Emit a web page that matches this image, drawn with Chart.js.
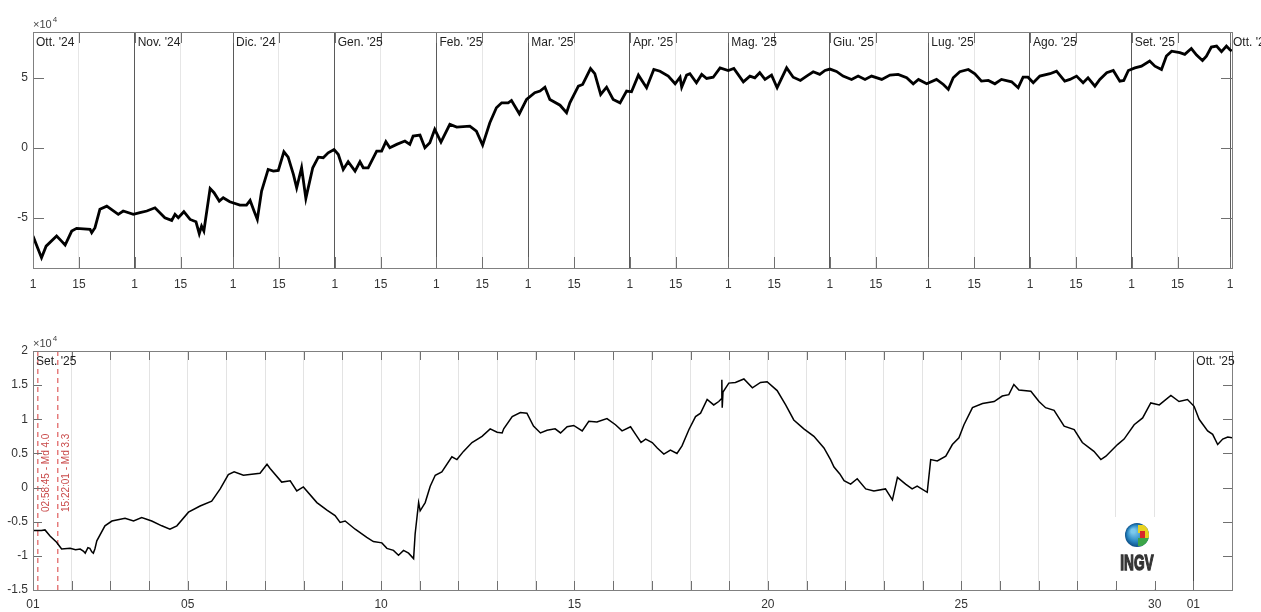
<!DOCTYPE html>
<html>
<head>
<meta charset="utf-8">
<script src="https://cdn.jsdelivr.net/npm/chart.js@4.4.1/dist/chart.umd.min.js"></script>
<style>
  html, body { margin: 0; padding: 0; background: #fff; }
  #wrap { position: relative; width: 1261px; height: 612px; overflow: hidden; }
  canvas { position: absolute; left: 0; }
  #yearChart { top: 0; }
  #monthChart { top: 320px; }
</style>
</head>
<body>
<div id="wrap">
  <canvas id="yearChart" width="1261" height="300"></canvas>
  <canvas id="monthChart" width="1261" height="292"></canvas>
</div>
<script>
// top panel: days since 1 Oct 2024, values in units of 1e4
const yearDays = [0, 2.6, 4, 7.2, 8.7, 9.8, 11.8, 13.3, 17.4, 17.9, 18.9, 20.4, 22.5, 26, 27.5, 30.6, 32.6, 34.7, 37.2, 40.2,
  42.3, 43.3, 44.3, 46, 47.9, 49.7, 50.7, 51.4, 52.1, 54, 55.2, 56.8, 58, 60, 63.1, 65.1, 66.2, 67.4, 68.4, 69.7,
  71.7, 73.3, 74.8, 76.5, 77.8, 79.4, 80.4, 81.9, 83.2, 85.3, 87, 88.5, 90, 91.8, 93.1, 94.6, 96.1, 98.2, 99.7, 100.7,
  102.2, 104.8, 106.3, 107.6, 108.8, 110.9, 113.4, 114.9, 115.9, 118, 119.5, 121, 122.5, 124.4, 127.1, 129.2, 133.2, 135.2, 137.1, 139.3,
  141.3, 142.9, 144.9, 145.9, 148.3, 150.5, 153, 154.6, 156.1, 157.6, 160.7, 162.7, 163.7, 166.3, 167.6, 170, 171.3, 173.1, 174.9, 176.9,
  179, 181, 182.5, 184.6, 187.1, 189.3, 191.2, 193.7, 195.8, 197.3, 197.8, 199.3, 200.3, 202.3, 203.9, 205.4, 207.4, 209.5, 212, 213.7,
  216.6, 218.6, 220.1, 221.6, 223.2, 225.2, 226.9, 229.8, 231.8, 234, 235.9, 237.9, 239.9, 241.5, 243, 245, 247, 249.6, 251.6, 253.7,
  255.7, 258.8, 261.3, 263.8, 266.4, 268.4, 270, 272.5, 275.5, 277.6, 279.1, 280.6, 282.6, 285.2, 287.2, 289.2, 291.3, 293.3, 295.3, 298.4,
  300.4, 301.9, 303.4, 305, 307, 310.1, 312.1, 314.6, 316.2, 318.2, 320.2, 321.7, 323.8, 325.3, 327.4, 329.4, 331.4, 332.6, 334, 336,
  338, 340.5, 342.1, 344.1, 345.6, 347.2, 349.7, 351.2, 353.2, 354.8, 356.6, 357.8, 359.3, 360.9, 362.4, 363.9, 364.9, 365.5];
const yearValues = [-6.31, -7.86, -7.03, -6.31, -6.67, -6.95, -5.95, -5.76, -5.83, -6.07, -5.71, -4.40, -4.17, -4.76, -4.52, -4.76, -4.64, -4.52, -4.29, -5.00,
  -5.19, -4.76, -5.00, -4.57, -5.12, -5.29, -6.14, -5.60, -5.95, -2.91, -3.21, -3.81, -3.57, -3.86, -4.10, -4.10, -3.76, -4.52, -5.12, -3.10,
  -1.55, -1.67, -1.62, -0.29, -0.67, -1.90, -2.86, -1.43, -3.62, -1.43, -0.67, -0.71, -0.36, -0.12, -0.48, -1.55, -1.00, -1.67, -1.00, -1.43,
  -1.43, -0.24, -0.24, 0.43, 0.00, 0.24, 0.48, 0.24, 0.83, 0.90, 0.00, 0.36, 1.31, 0.40, 1.67, 1.48, 1.55, 1.19, 0.19, 1.79,
  2.86, 3.21, 3.21, 3.38, 2.43, 3.45, 3.93, 4.05, 4.33, 3.45, 3.04, 2.50, 3.21, 4.40, 4.52, 5.66, 5.29, 3.81, 4.33, 3.45,
  3.21, 4.05, 4.00, 5.19, 4.29, 5.59, 5.47, 5.12, 4.57, 5.04, 4.33, 5.19, 5.29, 4.64, 5.24, 4.95, 5.04, 5.71, 5.52, 5.66,
  4.71, 5.12, 5.00, 5.36, 4.88, 5.19, 4.29, 5.71, 5.04, 4.81, 5.12, 5.43, 5.24, 5.52, 5.62, 5.45, 5.12, 4.88, 5.12, 4.88,
  5.12, 4.88, 5.19, 5.24, 5.00, 4.57, 4.88, 4.57, 4.88, 4.52, 4.17, 5.00, 5.43, 5.59, 5.29, 4.76, 4.81, 4.57, 4.88, 4.71,
  4.29, 5.04, 5.04, 4.64, 5.12, 5.29, 5.47, 4.76, 4.88, 5.12, 4.64, 5.00, 4.40, 4.88, 5.36, 5.52, 4.76, 4.81, 5.52, 5.71,
  5.83, 6.19, 5.83, 5.59, 6.55, 6.90, 6.79, 6.67, 7.09, 6.62, 6.24, 6.55, 7.19, 7.26, 6.86, 7.26, 7.02, 6.90];
const monthStartDays = [0, 31, 61, 92, 123, 151, 182, 212, 243, 273, 304, 335, 365];
const monthNames = ["Ott. '24", "Nov. '24", "Dic. '24", "Gen. '25", "Feb. '25", "Mar. '25", "Apr. '25",
  "Mag. '25", "Giu. '25", "Lug. '25", "Ago. '25", "Set. '25", "Ott. '25"];
const yearYTicks = [-5, 0, 5];

// bottom panel: days since 1 Sep 2025 00:00, values in units of 1e4
const sepDays = [0, 0.22, 0.31, 0.44, 0.61, 0.74, 0.96, 1.1, 1.22, 1.3, 1.35, 1.42, 1.47, 1.52, 1.56, 1.6, 1.65, 1.86, 2.04, 2.38,
  2.6, 2.81, 3.07, 3.33, 3.54, 3.72, 4.02, 4.32, 4.62, 4.84, 5.05, 5.2, 5.44, 5.87, 6.05, 6.13, 6.43, 6.65, 6.82, 6.99,
  7.34, 7.6, 7.81, 7.94, 8.07, 8.33, 8.63, 8.8, 9.02, 9.15, 9.32, 9.45, 9.58, 9.71, 9.84, 9.88, 9.97, 10.01, 10.14, 10.27,
  10.4, 10.57, 10.83, 10.96, 11.13, 11.35, 11.61, 11.82, 12.0, 12.13, 12.17, 12.39, 12.6, 12.77, 12.94, 13.12, 13.29, 13.5, 13.64, 13.81,
  13.98, 14.2, 14.37, 14.58, 14.84, 15.06, 15.23, 15.45, 15.58, 15.72, 15.84, 16.01, 16.14, 16.31, 16.48, 16.65, 16.78, 16.96, 17.13, 17.26,
  17.43, 17.6, 17.73, 17.8, 17.81, 17.82, 17.84, 17.99, 18.16, 18.38, 18.6, 18.81, 18.98, 19.24, 19.46, 19.67, 19.93, 20.19, 20.45, 20.62,
  20.71, 20.86, 20.97, 21.14, 21.31, 21.53, 21.74, 22.04, 22.22, 22.35, 22.56, 22.73, 22.86, 23.12, 23.21, 23.38, 23.6, 23.77, 23.94, 24.07,
  24.29, 24.55, 24.85, 25.06, 25.23, 25.36, 25.49, 25.8, 26.01, 26.18, 26.4, 26.66, 26.92, 27.13, 27.43, 27.61, 27.74, 28.04, 28.21, 28.47,
  28.69, 28.9, 29.12, 29.42, 29.63, 29.85, 30.02, 30.15, 30.37, 30.5, 30.63, 30.76, 30.89, 31.0];
const sepValues = [-0.63, -0.63, -0.62, -0.71, -0.80, -0.90, -0.89, -0.91, -0.90, -0.93, -0.96, -0.88, -0.89, -0.94, -0.96, -0.90, -0.78, -0.56, -0.49, -0.45,
  -0.49, -0.44, -0.49, -0.56, -0.61, -0.56, -0.36, -0.27, -0.20, -0.02, 0.19, 0.23, 0.18, 0.21, 0.34, 0.28, 0.08, 0.10, -0.05, 0.01,
  -0.22, -0.33, -0.41, -0.51, -0.49, -0.61, -0.73, -0.79, -0.81, -0.89, -0.92, -0.99, -0.92, -0.96, -1.04, -0.68, -0.22, -0.34, -0.22, 0.02,
  0.18, 0.23, 0.45, 0.41, 0.53, 0.66, 0.75, 0.86, 0.81, 0.80, 0.86, 1.04, 1.10, 1.09, 0.90, 0.80, 0.84, 0.86, 0.80, 0.89,
  0.91, 0.83, 0.97, 0.96, 1.01, 0.92, 0.83, 0.89, 0.78, 0.66, 0.71, 0.66, 0.58, 0.49, 0.55, 0.50, 0.61, 0.85, 1.04, 1.09,
  1.29, 1.21, 1.26, 1.30, 1.58, 1.17, 1.40, 1.53, 1.54, 1.59, 1.46, 1.54, 1.55, 1.42, 1.21, 0.99, 0.86, 0.75, 0.58, 0.41,
  0.30, 0.20, 0.10, 0.05, 0.13, -0.02, -0.05, -0.02, -0.18, 0.15, 0.05, -0.02, 0.02, -0.07, 0.41, 0.39, 0.46, 0.63, 0.73, 0.92,
  1.17, 1.23, 1.26, 1.34, 1.36, 1.51, 1.43, 1.41, 1.26, 1.17, 1.13, 0.90, 0.85, 0.66, 0.53, 0.41, 0.46, 0.63, 0.71, 0.92,
  1.02, 1.24, 1.21, 1.35, 1.26, 1.29, 1.19, 1.00, 0.83, 0.78, 0.63, 0.71, 0.74, 0.73];
const sepYTicks = [-1.5, -1, -0.5, 0, 0.5, 1, 1.5, 2];
const sepDayLabels = { 0: "01", 4: "05", 9: "10", 14: "15", 19: "20", 24: "25", 29: "30", 30: "01" };
const sepMonthDays = [0, 30];
const sepMonthNames = ["Set. '25", "Ott. '25"];
const quakeTimes = ["02:58:45", "15:22:01"];
const quakeLabels = ["02:58:45 - Md 4.0", "15:22:01 - Md 3.3"];

const FONT = '"Liberation Sans", Arial, sans-serif';
Chart.defaults.font.family = FONT;
Chart.defaults.font.size = 12;
Chart.defaults.color = "#333";

function toDayFraction(hms) {
  const [h, m, s] = hms.split(":").map(Number);
  return (h + m / 60 + s / 3600) / 24;
}

function makeFrame(monthDays, names, tickLen) {
  return {
    id: "frame",
    afterDraw(chart) {
      const { ctx, chartArea: a, scales } = chart;
      const xs = scales.x, ys = scales.y;
      ctx.save();
      ctx.strokeStyle = "#707070";
      ctx.lineWidth = 1;
      ctx.beginPath();
      xs.ticks.forEach((t) => {
        const px = Math.round(xs.getPixelForValue(t.value)) + 0.5;
        ctx.moveTo(px, a.bottom);
        ctx.lineTo(px, a.bottom - tickLen);
        ctx.moveTo(px, a.top);
        ctx.lineTo(px, a.top + tickLen);
      });
      ys.ticks.forEach((t) => {
        const py = Math.round(ys.getPixelForValue(t.value)) + 0.5;
        ctx.moveTo(a.left, py);
        ctx.lineTo(a.left + tickLen, py);
        ctx.moveTo(a.right, py);
        ctx.lineTo(a.right - tickLen, py);
      });
      ctx.stroke();
      ctx.strokeStyle = "#808080";
      ctx.strokeRect(Math.round(a.left) + 0.5, Math.round(a.top) + 0.5,
        Math.round(a.right - a.left), Math.round(a.bottom - a.top));

      ctx.fillStyle = "#222";
      ctx.font = "12px " + FONT;
      ctx.textAlign = "left";
      ctx.textBaseline = "middle";
      monthDays.forEach((d, i) => {
        ctx.fillText(names[i], xs.getPixelForValue(d) + 3, a.top + 11);
      });

      ctx.fillStyle = "#444";
      ctx.textBaseline = "alphabetic";
      ctx.font = "11px " + FONT;
      ctx.fillText("×10", a.left, a.top - 4);
      const w = ctx.measureText("×10").width;
      ctx.font = "8px " + FONT;
      ctx.fillText("4", a.left + w + 1, a.top - 10);
      ctx.restore();
    }
  };
}

const monthSet = new Set(monthStartDays);
const yearTickDays = [];
monthStartDays.forEach((d, i) => {
  yearTickDays.push(d);
  if (i < monthStartDays.length - 1) yearTickDays.push(d + 14);
});

new Chart(document.getElementById("yearChart"), {
  type: "line",
  data: {
    datasets: [{
      data: yearDays.map((d, i) => ({ x: d, y: yearValues[i] })),
      borderColor: "#000",
      borderWidth: 2.8,
      pointRadius: 0,
      tension: 0
    }]
  },
  options: {
    responsive: false,
    animation: false,
    layout: { padding: { top: 32, right: 29, left: 0, bottom: 0 } },
    plugins: { legend: { display: false }, tooltip: { enabled: false } },
    scales: {
      x: {
        type: "linear",
        min: 0,
        max: 365.6,
        afterBuildTicks: (s) => { s.ticks = yearTickDays.map((v) => ({ value: v })); },
        afterFit: (s) => { s.height = 32; },
        grid: {
          drawTicks: false,
          color: (c) => (c.tick && monthSet.has(c.tick.value) ? "#5a5a5a" : "#e6e6e6")
        },
        border: { display: false },
        ticks: {
          autoSkip: false,
          maxRotation: 0,
          padding: 9,
          callback: (v) => (monthSet.has(v) ? "1" : "15")
        }
      },
      y: {
        min: -8.59,
        max: 8.27,
        afterBuildTicks: (s) => { s.ticks = yearYTicks.map((v) => ({ value: v })); },
        afterFit: (s) => { s.width = 33; },
        grid: { display: false, drawTicks: false },
        border: { display: false },
        ticks: { padding: 5, callback: (v) => String(v) }
      }
    }
  },
  plugins: [makeFrame(monthStartDays, monthNames, 11)]
});

const quakeDays = quakeTimes.map(toDayFraction);
const sepTickDays = [];
for (let d = 0; d <= 31; d++) sepTickDays.push(d);

// canvas coordinates of the logo (bottom canvas starts at page y = 320)
const logo = { x: 1137, y: 215, boxLeft: 1114, boxTop: 197, boxWidth: 46 };

const quakeNotes = {
  id: "quakeNotes",
  beforeDatasetsDraw(chart) {
    const { ctx, chartArea: a } = chart;
    // white patch under the logo
    ctx.save();
    ctx.fillStyle = "#fff";
    ctx.fillRect(logo.boxLeft, logo.boxTop, logo.boxWidth, a.bottom - logo.boxTop - 1);
    ctx.restore();
  },
  afterDraw(chart) {
    const { ctx, chartArea: a, scales } = chart;
    ctx.save();
    ctx.fillStyle = "#c94a4a";
    ctx.font = "10px " + FONT;
    ctx.textAlign = "left";
    ctx.textBaseline = "middle";
    quakeDays.forEach((d, i) => {
      const px = scales.x.getPixelForValue(d);
      ctx.save();
      ctx.translate(px + 8, a.top + 161);
      ctx.rotate(-Math.PI / 2);
      ctx.fillText(quakeLabels[i], 0, 0);
      ctx.restore();
    });

    // INGV logo
    const cx = logo.x, cy = logo.y, r = 12;
    const g = ctx.createRadialGradient(cx - 4, cy - 4, 2, cx, cy, r);
    g.addColorStop(0, "#7cc8ec");
    g.addColorStop(0.6, "#2a88c4");
    g.addColorStop(1, "#0d4f86");
    ctx.beginPath();
    ctx.arc(cx, cy, r, 0, Math.PI * 2);
    ctx.fillStyle = g;
    ctx.fill();
    ctx.save();
    ctx.clip();
    ctx.fillStyle = "#e8d21f";
    ctx.fillRect(cx + 1, cy - 10, 12, 8);
    ctx.fillStyle = "#d9262b";
    ctx.fillRect(cx + 3, cy - 4, 5, 7);
    ctx.fillStyle = "#3ca548";
    ctx.fillRect(cx + 1, cy + 3, 12, 8);
    ctx.fillStyle = "#e8d21f";
    ctx.fillRect(cx + 8, cy - 2, 5, 5);
    ctx.restore();

    ctx.fillStyle = "#333";
    ctx.strokeStyle = "#333";
    ctx.lineWidth = 1.4;
    ctx.font = "bold 22px " + FONT;
    ctx.textAlign = "center";
    ctx.textBaseline = "alphabetic";
    ctx.translate(cx, cy + 35);
    ctx.scale(0.62, 1);
    ctx.fillText("INGV", 0, 0);
    ctx.strokeText("INGV", 0, 0);
    ctx.restore();
  }
};

new Chart(document.getElementById("monthChart"), {
  type: "line",
  data: {
    datasets: [
      {
        data: sepDays.map((d, i) => ({ x: d, y: sepValues[i] })),
        borderColor: "#000",
        borderWidth: 1.5,
        pointRadius: 0,
        tension: 0
      },
      ...quakeDays.map((d) => ({
        data: [{ x: d, y: -1.5 }, { x: d, y: 2 }],
        borderColor: "rgba(222, 90, 90, 0.9)",
        borderWidth: 1.3,
        borderDash: [5, 4],
        pointRadius: 0
      }))
    ]
  },
  options: {
    responsive: false,
    animation: false,
    layout: { padding: { top: 31, right: 29, left: 0, bottom: 0 } },
    plugins: { legend: { display: false }, tooltip: { enabled: false } },
    scales: {
      x: {
        type: "linear",
        min: 0,
        max: 31,
        afterBuildTicks: (s) => { s.ticks = sepTickDays.map((v) => ({ value: v })); },
        afterFit: (s) => { s.height = 22; },
        grid: {
          drawTicks: false,
          color: (c) => (c.tick && c.tick.value === 30 ? "#4a4a4a" : "#e3e3e3")
        },
        border: { display: false },
        ticks: {
          autoSkip: false,
          maxRotation: 0,
          padding: 7,
          callback: (v) => sepDayLabels[v] || ""
        }
      },
      y: {
        min: -1.5,
        max: 2,
        afterBuildTicks: (s) => { s.ticks = sepYTicks.map((v) => ({ value: v })); },
        afterFit: (s) => { s.width = 33; },
        grid: { display: false, drawTicks: false },
        border: { display: false },
        ticks: { padding: 5, callback: (v) => String(v) }
      }
    }
  },
  plugins: [makeFrame(sepMonthDays, sepMonthNames, 9), quakeNotes]
});
</script>
</body>
</html>
